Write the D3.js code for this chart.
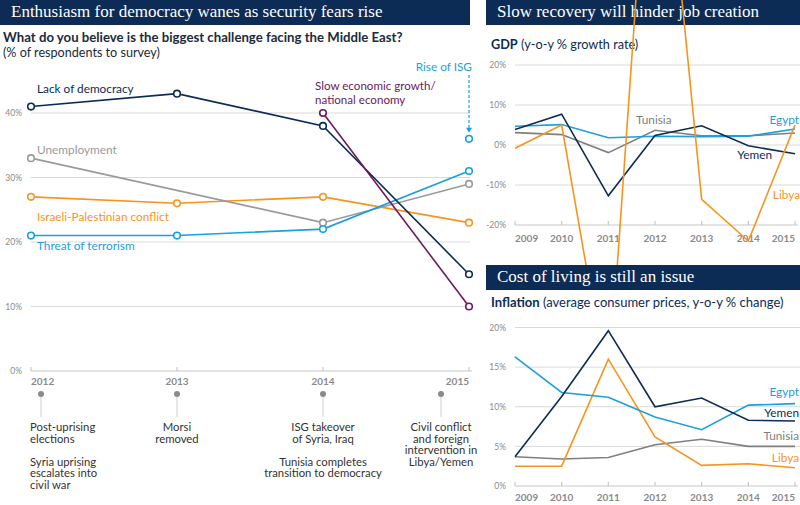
<!DOCTYPE html>
<html><head><meta charset="utf-8">
<script src="https://cdn.jsdelivr.net/npm/d3@7"></script>
<style>
body{margin:0;background:#fff;}
svg{display:block;font-family:Lato,"Open Sans",sans-serif;}
</style></head>
<body><svg id="c" width="800" height="505"></svg>
<script>
// ---------- data ----------
const surveyYears = [2012, 2013, 2014, 2015];
const lackOfDemocracy = [41, 43, 38, 15];
const unemployment = [33, null, 23, 29];
const israeliPalestinian = [27, 26, 27, 23];
const threatOfTerrorism = [21, 21, 22, 31];
const slowEconomicGrowth = [null, null, 40, 10];
const riseOfISG = [null, null, null, 36];
const surveyTicks = [0, 10, 20, 30, 40];

const eventYears = [2012, 2013, 2014, 2015];
const eventTexts = [
  ["Post-uprising", "elections", "", "Syria uprising", "escalates into", "civil war"],
  ["Morsi", "removed"],
  ["ISG takeover", "of Syria, Iraq", "", "Tunisia completes", "transition to democracy"],
  ["Civil conflict", "and foreign", "intervention in", "Libya/Yemen"]
];

const econYears = [2009, 2010, 2011, 2012, 2013, 2014, 2015];
const gdpEgypt   = [4.7, 5.1, 1.8, 2.2, 2.1, 2.2, 4.0];
const gdpYemen   = [3.9, 7.7, -12.7, 2.4, 4.8, -0.2, -2.2];
const gdpTunisia = [3.1, 2.6, -1.9, 3.7, 2.3, 2.3, 3.0];
const gdpLibya   = [-0.8, 5.0, -62.1, 104.5, -13.6, -24.0, 5.0];
const gdpTicks = [-20, -10, 0, 10, 20];

const infEgypt   = [16.3, 11.8, 11.2, 8.7, 7.1, 10.2, 10.4];
const infYemen   = [3.7, 11.3, 19.6, 10.0, 11.1, 8.3, 8.2];
const infTunisia = [3.7, 3.4, 3.6, 5.2, 5.9, 5.0, 5.0];
const infLibya   = [2.5, 2.5, 16.0, 6.2, 2.6, 2.8, 2.3];
const infTicks = [0, 5, 10, 15, 20];

// ---------- styles ----------
const NAVY = "#0c2b55", BLUE = "#1aa0df", ORANGE = "#f7941d", GRAY = "#8e8e8e", PURPLE = "#6a1b5f";
const GRID = "#d9d9d9", AXIS = "#c8c8c8", TICKTXT = "#8a8a8a";
const SERIF = "'Liberation Serif','DejaVu Serif',serif";

const svg = d3.select("#c");

function titleBar(x, y, w, h, text) {
  svg.append("rect").attr("x", x).attr("y", y).attr("width", w).attr("height", h).attr("fill", NAVY);
  svg.append("text").attr("x", x + 11).attr("y", y + h / 2 + 0.5).attr("dominant-baseline", "middle")
    .attr("fill", "#fff").attr("font-family", SERIF).attr("font-size", 17).text(text);
}

function yearAxis(g, x, years, yBase, labelY) {
  g.append("line").attr("x1", x.range()[0]).attr("x2", x.range()[1] + 3)
    .attr("y1", yBase).attr("y2", yBase).attr("stroke", AXIS).attr("stroke-width", 1.2);
  g.selectAll(".tk").data(years).join("line")
    .attr("x1", d => x(d)).attr("x2", d => x(d)).attr("y1", yBase - 4).attr("y2", yBase)
    .attr("stroke", AXIS).attr("stroke-width", 1.2);
  g.selectAll(".yl").data(years).join("text")
    .attr("x", d => x(d)).attr("y", labelY).attr("dominant-baseline", "middle")
    .attr("text-anchor", (d, i) => i === 0 ? "start" : (i === years.length - 1 ? "end" : "middle"))
    .attr("font-size", 10).attr("font-weight", 700).attr("fill", "#8a8a8a").text(d => d);
}

function gridY(g, y, ticks, x0, x1, labelX, fmt) {
  g.selectAll(".gl").data(ticks.slice(1)).join("line")
    .attr("x1", x0).attr("x2", x1).attr("y1", d => y(d)).attr("y2", d => y(d))
    .attr("stroke", GRID).attr("stroke-width", 1);
  g.selectAll(".gt").data(ticks).join("text")
    .attr("x", labelX).attr("y", d => y(d) + 1).attr("dominant-baseline", "middle").attr("text-anchor", "end")
    .attr("font-size", 8.5).attr("fill", TICKTXT).text(fmt);
}

function series(g, x, y, years, vals, color, width, markers) {
  const pts = years.map((yr, i) => [yr, vals[i]]).filter(p => p[1] !== null);
  const line = d3.line().x(d => x(d[0])).y(d => y(d[1]));
  g.append("path").attr("d", line(pts)).attr("fill", "none").attr("stroke", color)
    .attr("stroke-width", width).attr("stroke-linejoin", "miter");
  if (markers) {
    g.selectAll(null).data(pts).join("circle")
      .attr("cx", d => x(d[0])).attr("cy", d => y(d[1])).attr("r", 3.3)
      .attr("fill", "#fff").attr("stroke", color).attr("stroke-width", 1.6);
  }
}

function label(g, x, y, text, color, anchor, size) {
  g.append("text").attr("x", x).attr("y", y).attr("dominant-baseline", "middle")
    .attr("text-anchor", anchor || "start").attr("font-size", size || 11.8).attr("fill", color).text(text);
}

// ---------- LEFT PANEL ----------
titleBar(0, 0, 470, 25, "Enthusiasm for democracy wanes as security fears rise");
const L = svg.append("g");
L.append("text").attr("x", 3).attr("y", 39).attr("dominant-baseline", "middle")
  .attr("font-size", 13.2).attr("font-weight", 700).attr("fill", "#1d2a3a")
  .text("What do you believe is the biggest challenge facing the Middle East?");
L.append("text").attr("x", 3).attr("y", 54).attr("dominant-baseline", "middle")
  .attr("font-size", 12.6).attr("fill", "#1d2a3a").text("(% of respondents to survey)");

const xL = d3.scalePoint().domain(surveyYears).range([31, 469]);
const yL = d3.scaleLinear().domain([0, 40]).range([371, 113]);
gridY(L, yL, surveyTicks, 31, 470, 22, d => d + "%");
yearAxis(L, xL, surveyYears, yL(0), 382);

series(L, xL, yL, surveyYears, israeliPalestinian, ORANGE, 1.6, true);
series(L, xL, yL, surveyYears, unemployment, "#9a9a9a", 1.6, true);
series(L, xL, yL, surveyYears, threatOfTerrorism, BLUE, 1.6, true);
series(L, xL, yL, surveyYears, lackOfDemocracy, NAVY, 1.6, true);
series(L, xL, yL, surveyYears, slowEconomicGrowth, PURPLE, 1.6, true);
series(L, xL, yL, surveyYears, riseOfISG, BLUE, 1.6, true);

label(L, 37, 90, "Lack of democracy", NAVY);
label(L, 37, 151, "Unemployment", "#9a9a9a");
label(L, 37, 218, "Israeli-Palestinian conflict", ORANGE);
label(L, 37, 247, "Threat of terrorism", BLUE);
label(L, 315, 87, "Slow economic growth/", PURPLE, "start", 11.6);
label(L, 315, 101, "national economy", PURPLE, "start", 11.6);
label(L, 472, 68, "Rise of ISG", BLUE, "end");

// dashed arrow to ISG point
const isgX = xL(2015);
L.append("line").attr("x1", isgX).attr("x2", isgX).attr("y1", 75).attr("y2", yL(36) - 10)
  .attr("stroke", BLUE).attr("stroke-width", 1.2).attr("stroke-dasharray", "3,2");
L.append("path").attr("d", `M${isgX - 3},${yL(36) - 11} L${isgX + 3},${yL(36) - 11} L${isgX},${yL(36) - 6} Z`)
  .attr("fill", BLUE);

// events timeline
const evOffsets = [10, 0, 0, -28];
eventYears.forEach((yr, i) => {
  const cx = xL(yr) + evOffsets[i];
  L.append("line").attr("x1", cx).attr("x2", cx).attr("y1", 394).attr("y2", 417)
    .attr("stroke", "#cfcfcf").attr("stroke-width", 1);
  L.append("circle").attr("cx", cx).attr("cy", 394).attr("r", 3).attr("fill", "#8a8a8a");
  const anchor = i === 0 ? "start" : "middle";
  const tx = i === 0 ? xL(yr) - 1 : cx;
  eventTexts[i].forEach((t, j) => {
    if (!t) return;
    L.append("text").attr("x", tx).attr("y", 428.5 + j * 11.5).attr("dominant-baseline", "middle")
      .attr("text-anchor", anchor).attr("font-size", 11.3).attr("fill", "#333").text(t);
  });
});

// ---------- GDP PANEL ----------
titleBar(486, 0, 314, 25, "Slow recovery will hinder job creation");
const G = svg.append("g");
const gt = G.append("text").attr("x", 491).attr("y", 46).attr("dominant-baseline", "middle")
  .attr("font-size", 12.7).attr("fill", NAVY);
gt.append("tspan").attr("font-weight", 700).text("GDP");
gt.append("tspan").text(" (y-o-y % growth rate)");

const xR = d3.scalePoint().domain(econYears).range([515, 795]);
const yG = d3.scaleLinear().domain([-20, 20]).range([225, 65]);
gridY(G, yG, gdpTicks, 515, 800, 506, d => d + "%");
yearAxis(G, xR, econYears, yG(-20), 239);

svg.append("clipPath").attr("id", "gclip").append("rect")
  .attr("x", 480).attr("y", 0).attr("width", 320).attr("height", 265);
const Gl = G.append("g").attr("clip-path", "url(#gclip)");
series(Gl, xR, yG, econYears, gdpTunisia, "#7f7f7f", 1.6, false);
series(Gl, xR, yG, econYears, gdpEgypt, BLUE, 1.6, false);
series(Gl, xR, yG, econYears, gdpYemen, NAVY, 1.6, false);
series(Gl, xR, yG, econYears, gdpLibya, ORANGE, 1.6, false);

label(G, 636, 121, "Tunisia", "#7f7f7f");
label(G, 799, 121, "Egypt", BLUE, "end");
label(G, 772, 156, "Yemen", NAVY, "end");
label(G, 800, 196, "Libya", ORANGE, "end");

// ---------- INFLATION PANEL ----------
titleBar(486, 265, 314, 25, "Cost of living is still an issue");
const I = svg.append("g");
const it = I.append("text").attr("x", 491).attr("y", 304).attr("dominant-baseline", "middle")
  .attr("font-size", 13).attr("fill", NAVY);
it.append("tspan").attr("font-weight", 700).text("Inflation");
it.append("tspan").text(" (average consumer prices, y-o-y % change)");

const yI = d3.scaleLinear().domain([0, 20]).range([486, 327.5]);
gridY(I, yI, infTicks, 515, 800, 506, d => d + "%");
yearAxis(I, xR, econYears, yI(0), 498);

series(I, xR, yI, econYears, infTunisia, "#7f7f7f", 1.6, false);
series(I, xR, yI, econYears, infLibya, ORANGE, 1.6, false);
series(I, xR, yI, econYears, infEgypt, BLUE, 1.6, false);
series(I, xR, yI, econYears, infYemen, NAVY, 1.6, false);

label(I, 799, 393, "Egypt", BLUE, "end");
label(I, 799, 414, "Yemen", NAVY, "end");
label(I, 799, 437, "Tunisia", "#7f7f7f", "end");
label(I, 799, 459, "Libya", ORANGE, "end");
</script></body></html>
